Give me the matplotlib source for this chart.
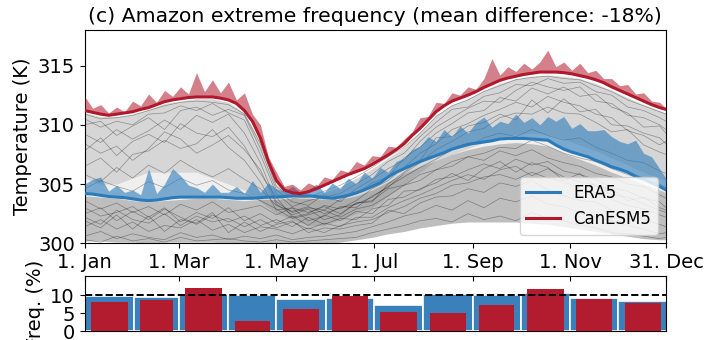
import numpy as np
import matplotlib
matplotlib.use("Agg")
import matplotlib.pyplot as plt

# ---------------- data ----------------
days5 = np.append(np.arange(0, 361, 5), 364)
days10 = np.append(np.arange(0, 361, 10), 364)

can_mean = [311.2, 311.05, 310.9, 310.8, 310.9, 311.0, 311.1, 311.3, 311.45, 311.7,
            311.95, 312.1, 312.2, 312.3, 312.35, 312.35, 312.35, 312.25, 312.1, 311.8,
            311.2, 310.3, 308.9, 306.9, 305.3, 304.5, 304.25, 304.2, 304.35, 304.6,
            304.9, 305.2, 305.5, 305.8, 306.05, 306.3, 306.65, 307.05, 307.45, 307.9,
            308.4, 309.1, 309.7, 310.4, 311.1, 311.6, 312.0, 312.25, 312.5, 312.8,
            313.15, 313.45, 313.75, 313.95, 314.1, 314.25, 314.35, 314.45, 314.45, 314.45,
            314.4, 314.3, 314.15, 314.0, 313.8, 313.55, 313.2, 312.9, 312.6, 312.3,
            312.0, 311.7, 311.45, 311.3]
can_max = [312.4, 311.4, 311.7, 311.0, 311.5, 311.1, 312.0, 311.6, 312.6, 311.9,
           312.9, 312.4, 313.2, 312.6, 314.4, 312.8, 313.8, 312.7, 313.6, 312.1,
           312.7, 310.9, 310.0, 307.3, 306.0, 304.8, 305.0, 304.5, 305.1, 304.8,
           305.6, 305.4, 306.2, 306.0, 306.9, 306.6, 307.4, 307.3, 308.2, 308.1,
           308.8, 309.4, 310.6, 310.7, 311.9, 311.8, 312.7, 312.5, 313.2, 313.0,
           313.9, 315.6, 314.2, 314.9, 314.5, 315.2, 314.7, 315.3, 316.3, 314.9,
           315.3, 314.6, 315.2, 314.4, 314.6, 313.9, 313.9, 313.3, 313.4, 312.6,
           312.7, 312.0, 311.9, 311.4]
era5_mean = [304.2, 304.15, 304.05, 303.95, 303.9, 303.85, 303.75, 303.65, 303.6, 303.65,
             303.75, 303.85, 303.9, 303.9, 303.9, 303.9, 303.9, 303.9, 303.85, 303.8,
             303.8, 303.8, 303.85, 303.9, 303.9, 303.95, 304.0, 304.0, 304.0, 303.95,
             303.85, 303.8, 303.9, 304.05, 304.25, 304.5, 304.8, 305.1, 305.6, 306.0,
             306.3, 306.6, 306.9, 307.15, 307.4, 307.65, 307.95, 308.15, 308.35, 308.45,
             308.55, 308.65, 308.8, 308.85, 308.85, 308.85, 308.8, 308.75, 308.7, 308.3,
             307.95, 307.7, 307.5, 307.3, 307.0, 306.75, 306.45, 306.25, 306.0, 305.65,
             305.4, 305.1, 304.8, 304.5]
era5_max = [305.0, 305.4, 305.6, 304.4, 304.9, 304.3, 304.5, 304.1, 306.3, 304.2,
            305.0, 306.3, 305.7, 304.9, 304.7, 304.3, 305.0, 304.3, 304.3, 304.8,
            304.2, 305.3, 304.3, 305.1, 304.6, 304.4, 304.8, 304.3, 304.5, 305.0,
            304.3, 305.1, 304.6, 305.5, 305.0, 306.0, 305.5, 306.4, 306.0, 306.9,
            307.2, 307.9, 308.2, 309.0, 308.6, 309.6, 309.0, 309.9, 309.3, 310.2,
            310.65, 309.8, 310.3, 310.1, 310.9, 310.2, 310.6, 310.0, 310.7, 310.3,
            310.7, 309.7, 310.1, 309.5, 309.5, 309.6, 309.0, 308.6, 308.4, 308.7,
            307.6, 307.3, 306.3, 305.5]

# grey envelopes (10-day)
upper_lo = [305.5, 305.0, 305.0, 305.5, 306.0, 306.0, 306.0, 306.0, 305.5, 305.0,
            304.5, 303.5, 302.5, 302.0, 301.5, 301.5, 302.0, 302.5, 303.0, 304.0,
            305.0, 306.0, 307.0, 307.5, 308.0, 308.5, 309.0, 309.2, 309.3, 309.2,
            308.8, 308.3, 307.8, 307.2, 306.6, 306.0, 305.5, 305.3]
upper_hi = [311.0, 310.7, 310.7, 310.9, 311.3, 311.8, 312.0, 312.2, 312.2, 311.9,
            311.0, 308.6, 305.0, 304.0, 304.0, 304.3, 304.8, 305.5, 306.3, 307.2,
            308.1, 309.4, 310.8, 311.7, 312.2, 312.9, 313.5, 313.9, 314.1, 314.2,
            314.1, 313.9, 313.5, 312.9, 312.3, 311.7, 311.2, 311.0]
lower_lo = [300.2, 300.2, 300.1, 300.1, 300.0, 300.1, 300.1, 300.1, 300.1, 300.0,
            300.0, 300.0, 300.0, 300.0, 300.0, 300.0, 300.1, 300.3, 300.5, 300.8,
            301.0, 301.3, 301.5, 301.7, 301.8, 301.8, 301.8, 301.8, 301.7, 301.6,
            301.4, 301.2, 301.0, 300.8, 300.6, 300.4, 300.3, 300.3]
lower_hi = [304.0, 303.9, 303.8, 303.6, 303.5, 303.6, 303.7, 303.8, 303.8, 303.7,
            303.6, 303.7, 303.7, 303.8, 303.8, 303.7, 303.7, 304.0, 304.5, 305.2,
            305.9, 306.5, 307.0, 307.5, 307.9, 308.2, 308.4, 308.5, 308.4, 308.2,
            307.6, 307.1, 306.6, 306.0, 305.5, 305.0, 304.5, 304.3]

# individual grey traces (10-day)
u1 = [310.5, 309.8, 310.3, 310.0, 310.9, 311.0, 311.6, 311.2, 311.8, 311.0, 310.4, 307.5, 304.2, 303.1, 303.6, 303.9, 304.2, 305.0, 305.8, 306.9, 307.6, 309.0, 310.2, 311.3, 311.5, 312.4, 312.7, 313.4, 313.3, 313.9, 313.5, 313.6, 312.8, 312.5, 311.5, 311.2, 310.6, 310.3]
u2 = [309.2, 308.5, 309.6, 308.8, 309.5, 310.4, 309.6, 310.8, 310.2, 310.9, 309.3, 306.8, 303.5, 302.6, 303.0, 302.8, 303.7, 304.2, 305.1, 305.6, 307.2, 308.1, 309.3, 310.1, 311.0, 311.2, 312.3, 312.0, 313.1, 312.6, 313.2, 312.4, 312.6, 311.5, 311.0, 309.8, 309.9, 309.3]
u3 = [307.8, 308.9, 307.4, 308.6, 309.2, 308.5, 310.1, 309.3, 309.0, 309.8, 308.2, 305.9, 303.9, 302.2, 302.5, 303.2, 302.9, 303.6, 304.6, 305.3, 306.4, 307.6, 308.4, 309.6, 310.1, 310.8, 311.3, 311.9, 311.5, 312.4, 311.9, 311.6, 310.9, 310.6, 309.5, 309.1, 308.3, 308.6]
u4 = [306.5, 307.2, 306.0, 307.5, 307.8, 308.7, 308.0, 308.4, 309.6, 308.1, 307.0, 305.2, 302.8, 303.0, 301.9, 302.3, 303.1, 303.0, 304.0, 304.7, 305.9, 306.8, 307.9, 308.6, 309.4, 309.7, 310.6, 311.0, 310.9, 311.5, 311.0, 310.9, 310.2, 309.4, 309.6, 308.3, 307.7, 307.5]
u5 = [310.0, 310.3, 309.1, 309.9, 310.6, 309.6, 311.2, 311.5, 310.8, 311.3, 310.8, 308.0, 304.5, 303.5, 303.2, 304.1, 303.5, 304.6, 305.4, 306.3, 307.0, 308.6, 309.8, 310.6, 311.4, 312.0, 311.9, 312.9, 313.6, 313.2, 312.9, 313.2, 312.0, 311.8, 310.8, 310.6, 310.0, 309.6]
u6 = [308.4, 307.6, 308.2, 307.0, 308.0, 309.4, 308.8, 307.6, 308.3, 309.1, 307.9, 306.2, 303.3, 302.4, 302.9, 302.0, 302.4, 303.4, 303.5, 305.0, 306.0, 307.0, 308.9, 309.0, 309.9, 310.2, 310.9, 310.4, 312.1, 311.0, 312.2, 311.1, 311.3, 310.0, 309.9, 309.3, 308.9, 308.4]
u7 = [310.9, 310.5, 310.6, 310.8, 311.2, 311.6, 311.9, 312.0, 311.9, 311.7, 310.9, 308.4, 304.8, 303.8, 303.9, 304.4, 304.9, 305.6, 306.4, 307.3, 308.1, 309.3, 310.7, 311.6, 312.1, 312.8, 313.3, 313.8, 314.0, 314.1, 313.9, 313.8, 313.3, 312.8, 312.1, 311.6, 311.1, 310.9]
m1 = [305.8, 305.2, 306.4, 305.5, 306.6, 305.9, 307.0, 306.2, 305.6, 306.3, 305.4, 304.6, 303.2, 302.7, 303.1, 302.5, 303.0, 303.3, 303.9, 304.8, 305.6, 306.4, 307.1, 307.9, 308.2, 308.9, 309.3, 309.0, 309.6, 309.1, 308.7, 308.9, 308.1, 307.6, 307.0, 306.8, 306.1, 305.9]
m2 = [304.6, 305.3, 304.8, 304.4, 305.2, 304.7, 305.5, 304.9, 305.3, 304.5, 304.2, 303.6, 302.9, 302.1, 302.4, 302.8, 302.2, 302.9, 303.2, 304.0, 304.9, 305.3, 306.2, 306.5, 307.3, 307.6, 308.1, 308.0, 308.7, 308.2, 307.6, 307.2, 306.9, 306.3, 305.8, 305.4, 305.0, 304.7]
l1 = [303.6, 302.9, 303.4, 302.6, 303.1, 302.4, 303.3, 302.8, 303.5, 302.6, 302.9, 303.2, 302.4, 303.0, 302.6, 303.1, 302.5, 303.4, 303.6, 304.6, 304.9, 305.8, 306.2, 306.9, 307.3, 307.0, 307.8, 307.4, 307.9, 307.2, 306.8, 306.5, 305.9, 305.6, 305.0, 304.8, 304.1, 303.8]
l2 = [302.5, 303.0, 301.9, 302.7, 302.0, 302.9, 302.2, 301.6, 302.4, 301.8, 302.3, 301.5, 302.0, 301.4, 302.2, 301.6, 302.1, 302.0, 302.9, 303.2, 304.4, 304.5, 305.4, 305.6, 306.2, 306.7, 306.3, 307.1, 306.6, 306.9, 306.1, 305.8, 305.4, 304.7, 304.4, 303.8, 303.5, 303.0]
l3 = [301.4, 302.0, 301.2, 301.8, 301.0, 301.5, 301.3, 302.0, 301.1, 301.6, 300.9, 301.4, 301.2, 300.8, 301.3, 300.9, 301.5, 301.8, 302.0, 302.6, 303.1, 303.8, 304.2, 304.9, 305.1, 305.6, 305.8, 305.4, 306.0, 305.5, 305.2, 304.6, 304.3, 303.7, 303.2, 302.9, 302.4, 302.2]
l4 = [300.6, 301.0, 300.4, 300.8, 300.5, 300.3, 300.9, 300.5, 300.7, 300.3, 300.6, 300.4, 300.7, 300.3, 300.5, 300.6, 300.8, 301.0, 301.4, 301.8, 302.3, 302.6, 303.2, 302.8, 303.6, 303.0, 303.8, 303.5, 304.0, 303.3, 303.1, 302.6, 302.2, 301.9, 301.5, 301.2, 300.8, 300.9]
l5 = [303.0, 302.3, 302.6, 303.1, 302.2, 303.0, 301.8, 302.6, 302.1, 303.0, 301.9, 302.5, 301.7, 302.3, 301.5, 302.4, 301.9, 302.7, 302.5, 303.7, 303.9, 304.6, 305.1, 305.9, 305.3, 306.3, 306.9, 306.0, 306.8, 306.4, 305.3, 305.9, 304.8, 304.6, 303.6, 303.9, 303.0, 302.8]
l6 = [301.9, 301.3, 302.4, 301.2, 302.3, 301.0, 302.0, 301.7, 302.6, 300.9, 301.8, 301.0, 301.6, 301.9, 300.9, 301.3, 301.2, 301.5, 301.7, 302.8, 302.5, 303.4, 303.9, 304.0, 304.6, 304.3, 305.1, 304.8, 305.3, 304.5, 304.0, 303.6, 303.5, 302.8, 302.4, 302.0, 301.6, 301.4]
l7 = [300.3, 300.1, 300.6, 300.2, 300.4, 300.1, 300.5, 300.2, 300.3, 300.4, 300.2, 300.1, 300.3, 300.1, 300.2, 300.3, 300.4, 300.5, 300.9, 301.2, 301.5, 301.9, 302.1, 301.8, 302.5, 302.0, 302.3, 301.9, 302.6, 302.1, 301.9, 301.5, 301.3, 300.9, 300.8, 300.6, 300.4, 300.5]
l8 = [302.2, 301.6, 302.8, 302.0, 301.7, 302.5, 301.5, 302.3, 301.8, 302.1, 301.4, 302.0, 301.3, 301.8, 301.2, 301.7, 301.4, 302.2, 302.2, 303.0, 303.6, 304.1, 304.7, 305.3, 305.8, 305.4, 306.2, 306.5, 305.7, 306.3, 305.6, 305.2, 304.9, 304.1, 303.9, 303.3, 302.8, 302.6]
grey_traces = [u1, u2, u3, u4, u5, u6, u7, m1, m2, l1, l2, l3, l4, l5, l6, l7, l8]

# monthly frequencies
month_start = [0, 31, 59, 90, 120, 151, 181, 212, 243, 273, 304, 334]
month_len = [31, 28, 31, 30, 31, 30, 31, 31, 30, 31, 30, 31]
freq_era5 = [9.8, 9.45, 10.4, 10.1, 9.06, 9.3, 7.4, 10.4, 10.0, 10.55, 9.35, 8.5]
freq_can = [8.15, 8.7, 11.9, 2.95, 6.1, 9.8, 5.45, 5.0, 7.4, 11.65, 9.05, 7.8]

tick_days = [0, 59, 120, 181, 243, 304, 364]
tick_labels = ['1. Jan', '1. Mar', '1. May', '1. Jul', '1. Sep', '1. Nov', '31. Dec']

# ---------------- plot ----------------
plt.rcParams['font.family'] = ['DejaVu Sans']
plt.rcParams['font.size'] = 14

BLUE = '#2b7bba'
RED = '#b2182b'
BAR_BLUE = '#3a80bb'
BAR_RED = '#b31b2e'

fig = plt.figure(figsize=(7.1, 3.4), dpi=100)
ax = fig.add_axes([0.1193, 0.2844, 0.8187, 0.6274])
ax2 = fig.add_axes([0.1193, 0.0256, 0.8187, 0.164])

ax.fill_between(days10, lower_lo, upper_hi, color='0.5', alpha=0.12, lw=0, zorder=1)
ax.fill_between(days10, upper_lo, upper_hi, color='0.45', alpha=0.2, lw=0, zorder=1)
ax.fill_between(days10, lower_lo, lower_hi, color='0.3', alpha=0.3, lw=0, zorder=1)
for tr in grey_traces:
    ax.plot(days10, tr, color='k', lw=0.5, alpha=0.35, zorder=2)

ax.fill_between(days5, era5_mean, era5_max, color=BLUE, alpha=0.6, lw=0, zorder=3)
ax.fill_between(days5, can_mean, can_max, color=RED, alpha=0.55, lw=0, zorder=3)
ax.plot(days5, era5_mean, color=BLUE, lw=2.2, label='ERA5', zorder=4)
ax.plot(days5, can_mean, color=RED, lw=2.2, label='CanESM5', zorder=5)

ax.set_xlim(0, 364)
ax.set_ylim(300, 318)
ax.set_xticks(tick_days)
ax.set_xticklabels(tick_labels)
ax.set_yticks([300, 305, 310, 315])
ax.set_ylabel('Temperature (K)')
ax.set_title('(c) Amazon extreme frequency (mean difference: -18%)', fontsize=14.7)
leg = ax.legend(loc='lower right', fontsize=12, framealpha=0.8)

# bottom bars
ax2.bar(month_start, freq_era5, width=month_len, align='edge', color=BAR_BLUE,
        edgecolor='white', linewidth=1.2, zorder=2)
red_w = [0.74 * m for m in month_len]
red_x = [s + 0.5 * m for s, m in zip(month_start, month_len)]
ax2.bar(red_x, freq_can, width=red_w, align='center', color=BAR_RED, zorder=3)
ax2.axhline(10, color='k', ls='--', lw=1.4, zorder=4)
ax2.set_xlim(0, 364)
ax2.set_ylim(0, 15.5)
ax2.set_yticks([0, 5, 10])
ax2.set_ylabel('Freq. (%)')
ax2.xaxis.tick_top()
ax2.set_xticks(tick_days)
ax2.tick_params(axis='x', direction='in', labeltop=False, labelbottom=False)

fig.savefig('out.png', dpi=100)
